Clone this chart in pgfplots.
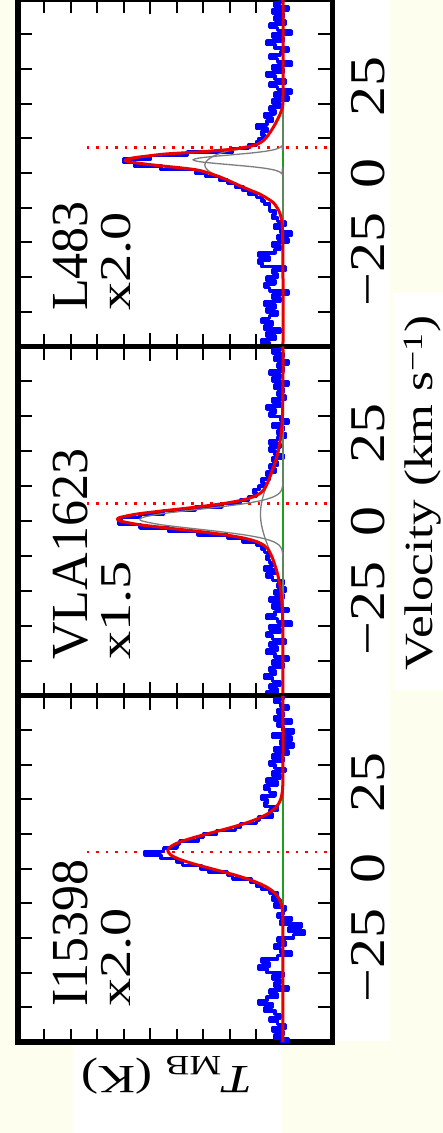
\documentclass[border=0pt]{standalone}
\usepackage{pgfplots}
\pgfplotsset{compat=1.18}
\usepackage{pgfplotstable}
\usepackage{fontspec}
\setmainfont{Liberation Serif}
\newfontfamily\tickfont[FakeStretch=1.2]{Liberation Serif}
\newfontfamily\labfont[FakeStretch=1.28]{Liberation Serif}
\definecolor{cream}{RGB}{254,254,238}
\definecolor{fitred}{RGB}{235,0,0}
\definecolor{specblue}{RGB}{0,0,255}
\definecolor{basegreen}{RGB}{30,160,30}
\definecolor{compgray}{RGB}{125,125,125}

% ---------------- blue spectra (v in km/s, T in plot units) ----------------
\pgfplotstableread{
v T
-50 0.2
-49 0.5
-48 0.8
-47 0.3
-46 0.6
-45 0.1
-44 0.7
-43 0.4
-42 0.8
-41 0.5
-40 0.2
-39 0.6
-38 0.3
-37 0.7
-36 0.1
-35 0.4
-34 -0.2
-33 0.5
-32 0.7
-31 0.3
-30 0.6
-29 0.2
-28 0.4
-27 -0.1
-26 0.8
-25 0.9
-24 0.5
-23 0.9
-22 0.3
-21 0.1
-20 0.4
-19 -0.2
-18 0.2
-17 -0.3
-16 0.1
-15 0.3
-14 -0.1
-13 0.2
-12 0.4
-11 0.3
-10 0.5
-9 0.5
-8 0.7
-7 0.8
-6 1.0
-5 1.3
-4 1.5
-3 1.8
-2 2.1
-1 2.4
0 2.9
1 3.3
2 4.6
3 5.6
4 6.0
5 5.0
6 3.6
7 1.9
8 1.3
9 1.0
10 0.9
11 0.7
12 0.8
13 0.6
14 1.0
15 0.6
16 0.4
17 0.7
18 0.3
19 0.5
20 0.1
21 0.4
22 -0.2
23 0.3
24 -0.3
25 0.2
26 0.5
27 -0.1
28 0.3
29 0.6
30 0.0
31 0.4
32 -0.3
33 0.2
34 0.5
35 0.1
36 -0.2
37 0.3
38 0.6
39 0.0
40 0.4
41 -0.3
42 0.2
43 0.5
44 -0.1
45 0.3
46 0.0
47 0.4
48 -0.2
49 0.3
50 0.1
}\blueL

\pgfplotstableread{
v T
-50 0.3
-49 0.6
-48 0.2
-47 0.5
-46 0.1
-45 0.4
-44 0.7
-43 0.3
-42 0.5
-41 0.0
-40 0.4
-39 -0.2
-38 0.3
-37 0.6
-36 0.2
-35 0.5
-34 -0.1
-33 0.4
-32 0.6
-31 0.1
-30 0.5
-29 -0.3
-28 0.2
-27 0.6
-26 0.3
-25 -0.2
-24 0.4
-23 0.1
-22 0.5
-21 0.0
-20 0.3
-19 -0.1
-18 0.2
-17 0.0
-16 0.4
-15 0.6
-14 0.3
-13 0.7
-12 0.4
-11 0.5
-10 0.6
-9 0.5
-8 0.7
-7 0.8
-6 1.0
-5 1.5
-4 2.1
-3 3.2
-2 4.3
-1 5.4
0 6.2
1 6.1
2 5.4
3 4.5
4 3.3
5 2.3
6 1.6
7 1.3
8 1.0
9 1.1
10 0.9
11 0.7
12 0.8
13 0.5
14 0.6
15 0.3
16 0.5
17 0.2
18 0.4
19 0.0
20 0.3
21 0.5
22 0.1
23 0.5
24 0.2
25 -0.1
26 0.2
27 0.0
28 0.4
29 -0.2
30 0.1
31 0.5
32 0.3
33 0.6
34 0.1
35 0.4
36 -0.1
37 0.2
38 0.0
39 0.3
40 -0.2
41 0.4
42 0.1
43 0.5
44 0.0
45 0.2
46 -0.2
47 0.3
48 0.0
49 0.4
50 0.1
}\blueV

\pgfplotstableread{
v T
-50 0.1
-49 -0.2
-48 0.3
-47 0.0
-46 0.4
-45 -0.1
-44 0.2
-43 0.5
-42 0.1
-41 0.3
-40 0.7
-39 0.4
-38 0.9
-37 0.6
-36 0.2
-35 0.5
-34 -0.2
-33 0.3
-32 0.1
-31 0.4
-30 0.0
-29 0.6
-28 0.9
-27 0.5
-26 0.8
-25 0.2
-24 -0.3
-23 0.1
-22 0.3
-21 -0.1
-20 0.2
-19 -0.4
-18 -0.8
-17 -0.2
-16 -0.7
-15 0.1
-14 -0.3
-13 0.2
-12 0.0
-11 -0.1
-10 0.3
-9 0.1
-8 0.4
-7 0.2
-6 0.5
-5 0.8
-4 1.0
-3 1.2
-2 1.9
-1 2.1
0 2.8
1 3.1
2 3.8
3 4.0
4 4.6
5 5.2
6 4.5
7 4.0
8 3.9
9 3.2
10 3.0
11 2.5
12 1.8
13 1.6
14 1.0
15 0.9
16 0.4
17 0.5
18 0.2
19 0.7
20 0.6
21 0.8
22 0.3
23 0.5
24 0.7
25 0.2
26 0.6
27 0.1
28 0.4
29 -0.1
30 0.3
31 0.5
32 0.0
33 0.4
34 -0.2
35 0.3
36 -0.4
37 0.1
38 -0.3
39 0.4
40 -0.4
41 0.0
42 0.2
43 -0.3
44 0.3
45 0.0
46 0.2
47 -0.2
48 0.1
49 0.3
50 0.0
}\blueI

\pgfplotsset{
  panel/.style={
    scale only axis, width=314.5pt,
    x dir=reverse, xmin=-1.868, xmax=10, ymin=-50, ymax=50,
    xtick={0,5,10}, minor x tick num=4, xticklabels={},
    ytick={-40,-30,...,40}, yticklabels={},
    yticklabel pos=right,
    extra y ticks={-25,0,25},
    extra y tick labels={−25,0,25},
    extra y tick style={major tick length=0pt},
    yticklabel style={font=\tickfont\fontsize{50}{60}\selectfont, rotate=90,
      anchor=north, inner xsep=0pt, inner ysep=19pt},
    major tick length=14pt, minor tick length=13pt,
    tick style={line width=2pt, black},
    axis line style={line width=5.5pt, line cap=rect},
    axis background/.style={fill=white},
    every axis plot/.append style={line join=round},
  },
  pspec/.style={specblue, line width=3.5pt, const plot},
  pfit/.style={fitred, line width=3pt, smooth},
  pcomp/.style={compgray, line width=1.3pt, smooth},
  pbase/.style={basegreen, line width=2.5pt},
  pvsys/.style={red, line width=2.5pt, dash pattern=on 2.5pt off 7pt},
}
\tikzset{
  srcname/.style={rotate=90, anchor=base west, inner sep=0pt, font=\fontsize{52}{62}\selectfont},
  srcscale/.style={rotate=90, anchor=base west, inner sep=0pt, font=\labfont\fontsize{44}{52}\selectfont},
}

\begin{document}
\begin{tikzpicture}
\useasboundingbox (0,0) rectangle (443pt,-1133pt);
\clip (0,0) rectangle (443pt,-1133pt);
\fill[cream] (0,0) rectangle (443pt,-1133pt);
\fill[white] (15pt,5pt) rectangle (390pt,-1041pt);
\fill[white] (393pt,-293pt) rectangle (450pt,-690pt);
\fill[white] (73pt,-1045pt) rectangle (282pt,-1140pt);

% ---------------- L483 (top) ----------------
\begin{axis}[panel, at={(18pt,0.5pt)}, anchor=north west, height=347pt]
\addplot[pvsys] coordinates {(7.4,7.3) (-1.868,7.3)};
\addplot[pspec] table[x=T,y=v]{\blueL};
\addplot[pbase] coordinates {(0,-50) (0,50)};
\addplot[pcomp] coordinates {(0,-50) (0,-2) (0.045,-0.2) (0.123,0.3) (0.297,0.8) (0.626,1.3) (1.151,1.8) (1.849,2.3) (2.594,2.8) (3.177,3.3) (3.4,3.8) (3.177,4.3) (2.594,4.8) (1.849,5.3) (1.151,5.8) (0.626,6.3) (0.297,6.8) (0.123,7.3) (0.045,7.8) (0,9.5) (0,50)};
\addplot[pcomp] coordinates {(0,-50) (0,-30) (0.02,-16) (0.1,-12) (0.22,-10) (0.37,-8.5) (0.6,-7.3) (0.87,-6.1) (1.25,-4.9) (1.62,-3.7) (2.05,-2.2) (2.49,-0.8) (2.75,0.3) (2.9,1.3) (2.95,2.3) (2.9,3.3) (2.75,4.3) (2.5,5.3) (2.1,6.3) (1.62,6.9) (1.08,7.9) (0.78,9.0) (0.62,10.3) (0.37,13.1) (0.2,15.5) (0.06,18) (0,22) (0,50)};
\addplot[pfit] coordinates {(0,-50) (0,-30) (0.02,-16) (0.1,-12) (0.22,-10) (0.37,-8.5) (0.6,-7.3) (0.87,-6.1) (1.25,-4.9) (1.62,-3.7) (2.05,-2.2) (2.5,-0.8) (3.13,0.7) (3.76,1.4) (4.4,1.9) (5.0,2.4) (5.6,3.0) (5.96,3.6) (5.7,4.3) (5.1,4.9) (4.39,5.5) (3.13,6.1) (1.87,6.9) (1.12,7.9) (0.80,9.0) (0.62,10.3) (0.37,13.1) (0.2,15.5) (0.06,18) (0,22) (0,50)};
\node[srcname] at (axis cs:7.36,-39.8) {L483};
\node[srcscale] at (axis cs:5.77,-39.8) {x2.0};
\end{axis}

% ---------------- VLA1623 (middle) ----------------
\begin{axis}[panel, at={(18pt,-346.5pt)}, anchor=north west, height=349pt]
\addplot[pvsys] coordinates {(7.4,5.0) (-1.868,5.0)};
\addplot[pspec] table[x=T,y=v]{\blueV};
\addplot[pbase] coordinates {(0,-50) (0,50)};
\addplot[pcomp] coordinates {(0,-50) (0,-12) (0.004,-10) (0.047,-8) (0.135,-7) (0.338,-6) (0.742,-5) (1.430,-4) (2.417,-3) (3.583,-2) (4.659,-1) (5.312,0) (5.4,0.5) (5.312,1) (4.659,2) (3.583,3) (2.417,4) (1.430,5) (0.742,6) (0.338,7) (0.135,8) (0.047,9) (0.015,10) (0.004,11) (0,13) (0,50)};
\addplot[pcomp] coordinates {(0,-50) (0.001,-40) (0.006,-30) (0.025,-25) (0.083,-20) (0.179,-16) (0.288,-13) (0.425,-10) (0.525,-8) (0.625,-6) (0.715,-4) (0.787,-2) (0.834,0) (0.85,2) (0.834,4) (0.787,6) (0.715,8) (0.625,10) (0.525,12) (0.425,14) (0.288,17) (0.179,20) (0.067,25) (0.020,30) (0.001,40) (0,50)};
\addplot[pfit] coordinates {(0,-50) (0.001,-40) (0.006,-30) (0.025,-25) (0.083,-20) (0.179,-16) (0.288,-13) (0.429,-10) (0.572,-8) (0.710,-7) (0.963,-6) (1.413,-5) (2.145,-4) (3.171,-3) (4.370,-2) (5.473,-1) (6.146,0) (6.241,0.5) (6.158,1) (5.509,2) (4.429,3) (3.251,4) (2.244,5) (1.529,6) (1.092,7) (0.850,8) (0.718,9) (0.640,10) (0.579,11) (0.425,14) (0.288,17) (0.179,20) (0.067,25) (0.020,30) (0.001,40) (0,50)};
\node[srcname] at (axis cs:7.36,-39.8) {VLA1623};
\node[srcscale] at (axis cs:5.77,-39.8) {x1.5};
\end{axis}

% ---------------- I15398 (bottom) ----------------
\begin{axis}[panel, at={(18pt,-695.5pt)}, anchor=north west, height=346.5pt]
\addplot[pvsys] coordinates {(7.4,4.8) (-1.868,4.8)};
\addplot[pspec] table[x=T,y=v]{\blueI};
\addplot[pbase] coordinates {(0,-50) (0,50)};
\addplot[pfit] coordinates {(0,-50) (0,-20) (0.003,-15) (0.023,-12) (0.072,-10) (0.198,-8) (0.310,-7) (0.470,-6) (0.687,-5) (0.969,-4) (1.319,-3) (1.733,-2) (2.199,-1) (2.693,0) (3.181,1) (3.627,2) (3.992,3) (4.240,4) (4.35,5.2) (4.301,6) (4.107,7) (3.785,8) (3.367,9) (2.890,10) (2.395,11) (1.915,12) (1.478,13) (1.101,14) (0.791,15) (0.549,16) (0.368,17) (0.238,18) (0.148,19) (0.089,20) (0.029,22) (0.004,25) (0,30) (0,50)};
\node[srcname] at (axis cs:7.36,-39.8) {I15398};
\node[srcscale] at (axis cs:5.77,-39.8) {x2.0};
\end{axis}

% ---------------- axis titles ----------------
\node[rotate=90, anchor=base, inner sep=0pt, font=\labfont\fontsize{40}{48}\selectfont]
  at (432pt,-493pt) {Velocity (km s\textsuperscript{−1})};
\node[rotate=180, anchor=base, inner sep=0pt, font=\labfont\fontsize{40}{48}\selectfont]
  at (167pt,-1066pt) {\textit{T}\textsubscript{MB} (K)};
\end{tikzpicture}
\end{document}
